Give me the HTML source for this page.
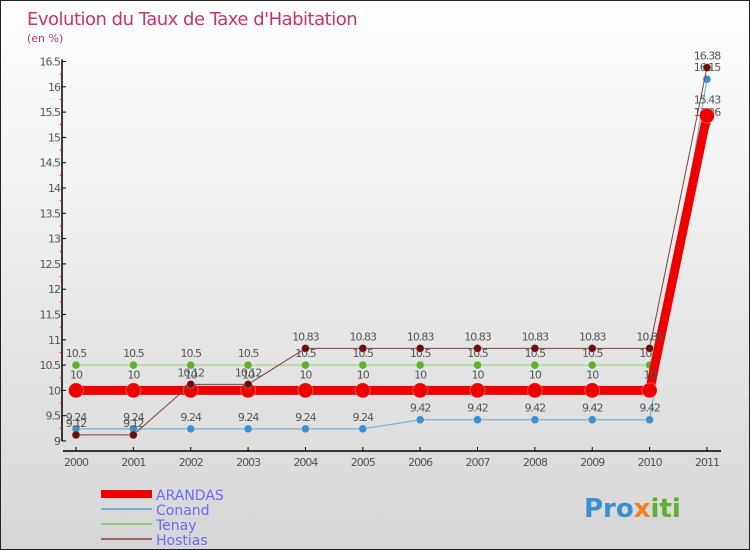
<!DOCTYPE html>
<html><head><meta charset="utf-8"><style>
body{margin:0}
#c{width:750px;height:550px;position:relative;box-sizing:border-box;border:1px solid #222;background:linear-gradient(#fff,#d6d6d6);overflow:hidden;font-family:"DejaVu Sans","Liberation Sans",sans-serif}
</style></head><body>
<div id="c">
<svg id="s" width="750" height="550" style="position:absolute;left:0;top:0">
<text x="26" y="24" font-size="18" fill="#c8336a" font-family="DejaVu Sans,sans-serif" letter-spacing="-0.5">Evolution du Taux de Taxe d'Habitation</text>
<text x="26" y="41" font-size="11" fill="#c8336a">(en %)</text>
<g id="ax"></g><g id="ser"></g>
<g>
<rect x="100" y="489" width="51" height="8" fill="#e00"/>
<text x="155" y="499" font-size="14" fill="#6a6aff">ARANDAS</text>
<line x1="100" y1="508" x2="151" y2="508" stroke="#7ab0d0" stroke-width="2"/>
<text x="155" y="514" font-size="14" fill="#6a6aff">Conand</text>
<line x1="100" y1="523" x2="151" y2="523" stroke="#90d070" stroke-width="2"/>
<text x="155" y="529" font-size="14" fill="#6a6aff">Tenay</text>
<line x1="100" y1="538" x2="151" y2="538" stroke="#a06060" stroke-width="2"/>
<text x="155" y="544" font-size="14" fill="#6a6aff">Hostias</text>
</g>
<text x="583" y="516" font-size="26" font-weight="bold" fill="#3a8fd0">Pro<tspan fill="#f08020">x</tspan><tspan fill="#60b030">iti</tspan></text>
</svg>
</div>
<script>
const years=[2000,2001,2002,2003,2004,2005,2006,2007,2008,2009,2010,2011];
const arandas=[10,10,10,10,10,10,10,10,10,10,10,15.43];
const conand=[9.24,9.24,9.24,9.24,9.24,9.24,9.42,9.42,9.42,9.42,9.42,16.15];
const tenay=[10.5,10.5,10.5,10.5,10.5,10.5,10.5,10.5,10.5,10.5,10.5,15.26];
const hostias=[9.12,9.12,10.12,10.12,10.83,10.83,10.83,10.83,10.83,10.83,10.83,16.38];
const yTicks=[9,9.5,10,10.5,11,11.5,12,12.5,13,13.5,14,14.5,15,15.5,16,16.5];
const NS="http://www.w3.org/2000/svg";
const X=i=>75+i*57.36, Y=v=>440-(v-9)*50.6;
function mk(t,a,p){const e=document.createElementNS(NS,t);for(const k in a)e.setAttribute(k,a[k]);p.appendChild(e);return e;}
const ax=document.getElementById('ax'), ser=document.getElementById('ser');
let l=mk('line',{x1:61,y1:Y(16.5)-2,x2:61,y2:Y(9),stroke:'#000','stroke-width':1.5},ax);


l=mk('line',{x1:62,y1:450,x2:720,y2:450,stroke:'#000','stroke-width':1.5},ax);


yTicks.forEach(v=>{
 mk('line',{x1:61,y1:Y(v),x2:65,y2:Y(v),stroke:'#000'},ax);
 if(v<16.5) mk('line',{x1:59,y1:Y(v+0.25),x2:62,y2:Y(v+0.25),stroke:'#e00'},ax);
 const t=mk('text',{x:59,y:Y(v)+4,'font-size':11,fill:'#555','text-anchor':'end','letter-spacing':'-1'},ax);t.textContent=v;
 
 
});
years.forEach((y,i)=>{
 mk('line',{x1:X(i),y1:446,x2:X(i),y2:450,stroke:'#000'},ax);
 const t=mk('text',{x:X(i),y:465,'font-size':11,fill:'#555','text-anchor':'middle','letter-spacing':'-1'},ax);t.textContent=y;
 
 
});
function series(d,name,col,dot,w,r,lblDy){
 const g=mk('g',{},ser);
 
 
 const p=mk('polyline',{points:d.map((v,i)=>X(i)+','+Y(v)).join(' '),fill:'none',stroke:col,'stroke-width':w},g);
 
 
 d.forEach((v,i)=>{
  const c=mk('circle',{cx:X(i),cy:Y(v),r:r,fill:dot,stroke:'#fff','stroke-opacity':0.3},g);
  
  
  const t=mk('text',{x:X(i),y:Y(v)+lblDy,'font-size':11,fill:'#555','text-anchor':'middle','letter-spacing':'-1'},g);t.textContent=v;
  
  
 });
}
series(tenay,'tenay','#90d070','#60b030',1,4,-8);
series(conand,'conand','#7ab0d0','#3a8fd0',1.2,4,-8);
series(arandas,'arandas','#e00','#e00',9,7.5,-12);
series(hostias,'hostias','#804040','#6a1010',1,4,-8);
</script>
</body></html>
